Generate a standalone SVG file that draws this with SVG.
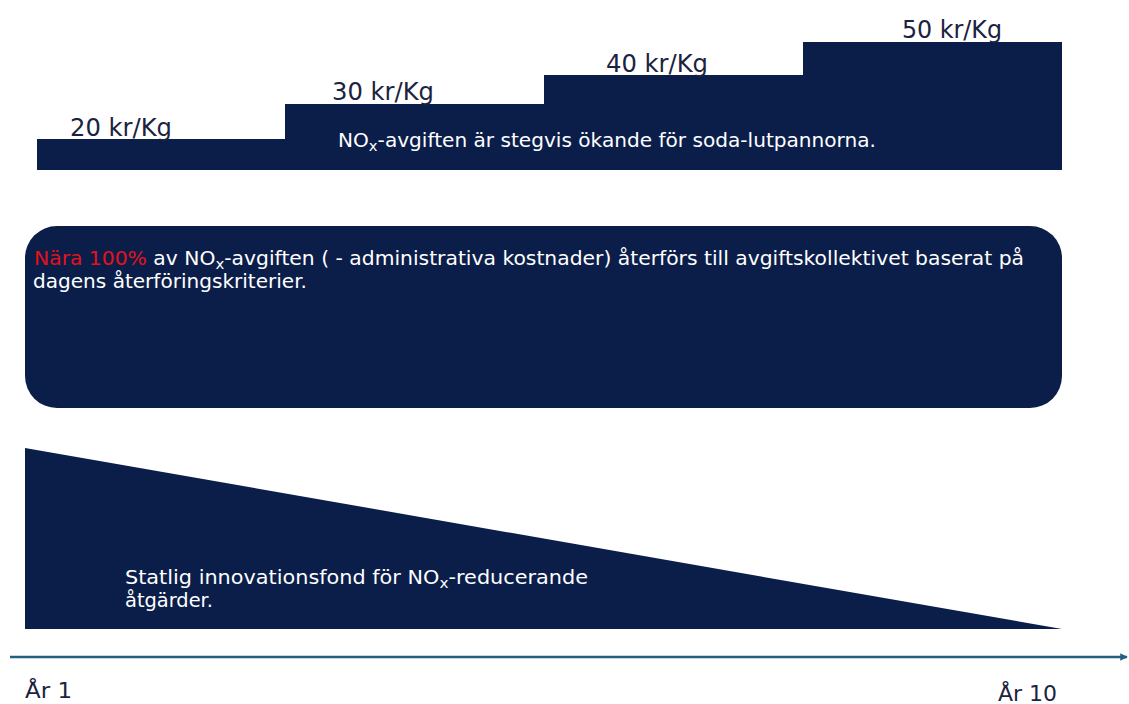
<svg xmlns="http://www.w3.org/2000/svg" width="1129" height="704" viewBox="0 0 1129 704">
  <defs>
    <style>
      .navy { fill: #0b1e4a; }
      .lbl { font-family: "DejaVu Sans", sans-serif; font-size: 24px; fill: #1b2340; }
      .body { font-family: "DejaVu Sans", sans-serif; font-size: 19px; fill: #ffffff; }
      .red { fill: #e3121b; }
      .yr { font-family: "DejaVu Sans", sans-serif; font-size: 22px; fill: #1b2340; }
      .axis { stroke: #245e80; stroke-width: 2.5; fill: none; }
    </style>
    <marker id="arr" viewBox="0 0 10 10" refX="9" refY="5" markerWidth="3" markerHeight="3" orient="auto">
      <path d="M0,0 L10,5 L0,10 z" fill="#245e80"/>
    </marker>
  </defs>
  <rect width="1129" height="704" fill="#ffffff"/>

  <g id="steps">
    <path class="navy" d="M37,170 L37,139 L285,139 L285,104 L544,104 L544,75 L803,75 L803,42 L1062,42 L1062,170 Z"/>
    <text class="lbl" x="70" y="136" textLength="102" lengthAdjust="spacingAndGlyphs">20 kr/Kg</text>
    <text class="lbl" x="332" y="100" textLength="102" lengthAdjust="spacingAndGlyphs">30 kr/Kg</text>
    <text class="lbl" x="606" y="72" textLength="102" lengthAdjust="spacingAndGlyphs">40 kr/Kg</text>
    <text class="lbl" x="902" y="38" textLength="100" lengthAdjust="spacingAndGlyphs">50 kr/Kg</text>
    <text class="body" x="338" y="147" textLength="538" lengthAdjust="spacingAndGlyphs">NO<tspan font-size="14" dy="4">x</tspan><tspan dy="-4">-avgiften är stegvis ökande för soda-lutpannorna.</tspan></text>
  </g>

  <g id="refund">
    <rect class="navy" x="25" y="226" width="1037" height="182" rx="32" ry="32"/>
    <text class="body" x="34" y="265" textLength="990" lengthAdjust="spacingAndGlyphs"><tspan class="red">Nära 100%</tspan> av NO<tspan font-size="14" dy="4">x</tspan><tspan dy="-4">-avgiften ( - administrativa kostnader) återförs till avgiftskollektivet baserat på</tspan></text>
    <text class="body" x="33" y="288" textLength="274" lengthAdjust="spacingAndGlyphs">dagens återföringskriterier.</text>
  </g>

  <g id="fund">
    <path class="navy" d="M25,448 L1062,629 L25,629 Z"/>
    <text class="body" x="125" y="584" textLength="463" lengthAdjust="spacingAndGlyphs">Statlig innovationsfond för NO<tspan font-size="14" dy="4">x</tspan><tspan dy="-4">-reducerande</tspan></text>
    <text class="body" x="125" y="607" textLength="88" lengthAdjust="spacingAndGlyphs">åtgärder.</text>
  </g>

  <g id="connectors">
    <line class="axis" x1="10" y1="657" x2="1127" y2="657" marker-end="url(#arr)"/>
  </g>

  <g id="years">
    <text class="yr" x="25" y="698" textLength="47" lengthAdjust="spacingAndGlyphs">År 1</text>
    <text class="yr" x="998" y="701" textLength="59" lengthAdjust="spacingAndGlyphs">År 10</text>
  </g>
</svg>
